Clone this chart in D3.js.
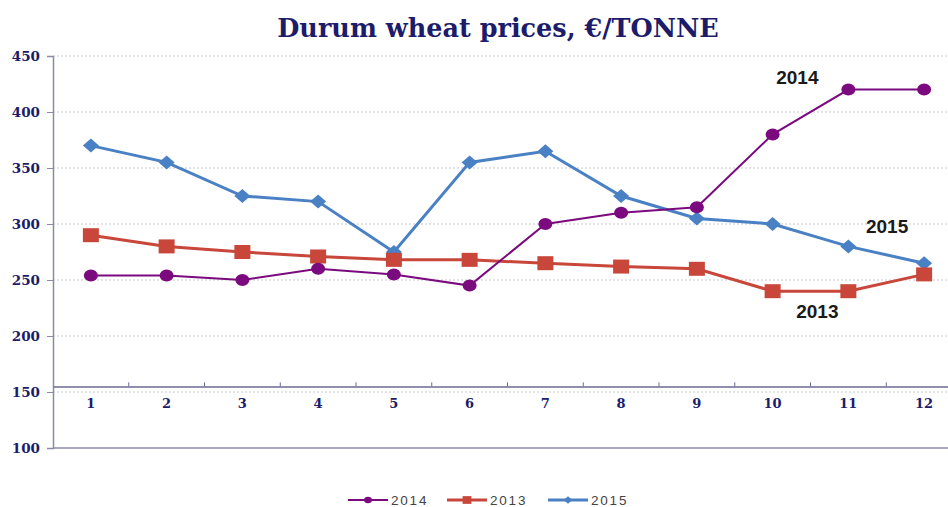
<!DOCTYPE html>
<html><head><meta charset="utf-8">
<script src="https://cdn.jsdelivr.net/npm/d3@7"></script>
<style>
html,body{margin:0;padding:0;background:#fff;}
svg{display:block;}
</style></head>
<body>
<script>
const months = ["1","2","3","4","5","6","7","8","9","10","11","12"];
const s2014 = [254,254,250,260,255,245,300,310,315,380,420,420];
const s2013 = [290,280,275,271,268,268,265,262,260,240,240,255];
const s2015 = [370,355,325,320,275,355,365,325,305,300,280,265];
const yTicks = [100,150,200,250,300,350,400,450];
const seriesNames = ["2014","2013","2015"];

const W = 948, H = 507;
const svg = d3.select("body").append("svg").attr("width", W).attr("height", H);

const left = 53, right = 962;
const x = d3.scaleBand().domain(months).range([left, right]);
const y = d3.scaleLinear().domain([100, 450]).range([448, 56]);

const navy = "#1c1c6b";
const colors = {"2014": "#7a0a7e", "2013": "#c8463a", "2015": "#4a80c4"};

// title
svg.append("text").attr("x", 498).attr("y", 37).attr("text-anchor", "middle")
  .attr("font-family", "'DejaVu Serif', serif").attr("font-weight", "bold")
  .attr("font-size", 25.5).attr("fill", navy).text("Durum wheat prices, €/TONNE");

// gridlines
svg.append("g").selectAll("line").data(yTicks.filter(d => d > 100)).join("line")
  .attr("x1", left).attr("x2", W).attr("y1", d => y(d)).attr("y2", d => y(d))
  .attr("stroke", "#c8c8d0").attr("stroke-width", 1).attr("stroke-dasharray", "2,2");

// y axis
const yAxis = svg.append("g").attr("transform", `translate(${left},0)`)
  .call(d3.axisLeft(y).tickValues(yTicks).tickSize(6).tickPadding(7));
yAxis.select(".domain").attr("stroke", "#8a8aa8").attr("stroke-width", 1.5);
yAxis.selectAll(".tick line").attr("stroke", "#8a8aa8");
yAxis.selectAll("text").attr("font-family", "'DejaVu Serif', serif").attr("font-weight", "bold")
  .attr("font-size", 13.5).attr("fill", navy);

// bottom line at 100
svg.append("line").attr("x1", left).attr("x2", W).attr("y1", y(100)).attr("y2", y(100))
  .attr("stroke", "#8a8aa8").attr("stroke-width", 1.5);

// x axis (crossing at 155)
const xAxisY = y(155);
const xAxis = svg.append("g").attr("transform", `translate(0,${xAxisY})`)
  .call(d3.axisBottom(x).tickSize(0).tickPadding(12));
xAxis.select(".domain").attr("stroke", "#6a6a90").attr("stroke-width", 1.5);
xAxis.selectAll("text").attr("font-family", "'DejaVu Serif', serif").attr("font-weight", "bold")
  .attr("font-size", 13).attr("fill", navy);
// tick marks between categories
svg.append("g").selectAll("line").data(months.slice(1)).join("line")
  .attr("x1", d => x(d)).attr("x2", d => x(d))
  .attr("y1", xAxisY - 4).attr("y2", xAxisY)
  .attr("stroke", "#6a6a90").attr("stroke-width", 1);

const cx = (d, i) => x(months[i]) + x.bandwidth() / 2;
const line = d3.line().x((d, i) => cx(d, i)).y(d => y(d));

function drawSeries(data, name, lw, marker) {
  const g = svg.append("g");
  g.append("path").datum(data).attr("d", line).attr("fill", "none")
    .attr("stroke", colors[name]).attr("stroke-width", lw);
  const pts = g.selectAll(".m").data(data).join("g")
    .attr("transform", (d, i) => `translate(${cx(d, i)},${y(d)})`);
  marker(pts, colors[name]);
}
const diamond = (sel, c) => sel.append("path").attr("d", "M0,-7L8,0L0,7L-8,0Z").attr("fill", c);
const square = (sel, c) => sel.append("rect").attr("x", -8).attr("y", -7).attr("width", 16).attr("height", 14).attr("fill", c);
const circle = (sel, c) => sel.append("ellipse").attr("rx", 7).attr("ry", 6).attr("fill", c);

drawSeries(s2015, "2015", 3, diamond);
drawSeries(s2013, "2013", 3, square);
drawSeries(s2014, "2014", 2, circle);

// series labels
const lab = [
  {t: "2014", i: 10, v: 420, dx: -51, dy: -6},
  {t: "2015", i: 11, v: 265, dx: -37, dy: -30},
  {t: "2013", i: 10, v: 240, dx: -31, dy: 27}
];
svg.append("g").selectAll("text").data(lab).join("text")
  .attr("x", d => x(months[d.i]) + x.bandwidth() / 2 + d.dx)
  .attr("y", d => y(d.v) + d.dy)
  .attr("text-anchor", "middle")
  .attr("font-family", "'Liberation Sans', Arial, sans-serif").attr("font-weight", "bold")
  .attr("font-size", 19).attr("fill", "#1a1a1a").text(d => d.t);

// legend
const legX = [348, 447, 548];
const legMarkers = {"2014": circle, "2013": square, "2015": diamond};
seriesNames.forEach((n, k) => {
  const g = svg.append("g").attr("transform", `translate(${legX[k]},500)`);
  g.append("line").attr("x1", 0).attr("x2", 40).attr("stroke", colors[n]).attr("stroke-width", n === "2014" ? 2 : 3);
  const m = g.append("g").attr("transform", "translate(20,0) scale(0.55)");
  legMarkers[n](m, colors[n]);
  g.append("text").attr("x", 43).attr("y", 5).attr("font-family", "'Liberation Sans', Arial, sans-serif")
    .attr("font-size", 13.5).attr("fill", "#444").attr("letter-spacing", 1.8).text(n);
});
</script>
</body></html>
